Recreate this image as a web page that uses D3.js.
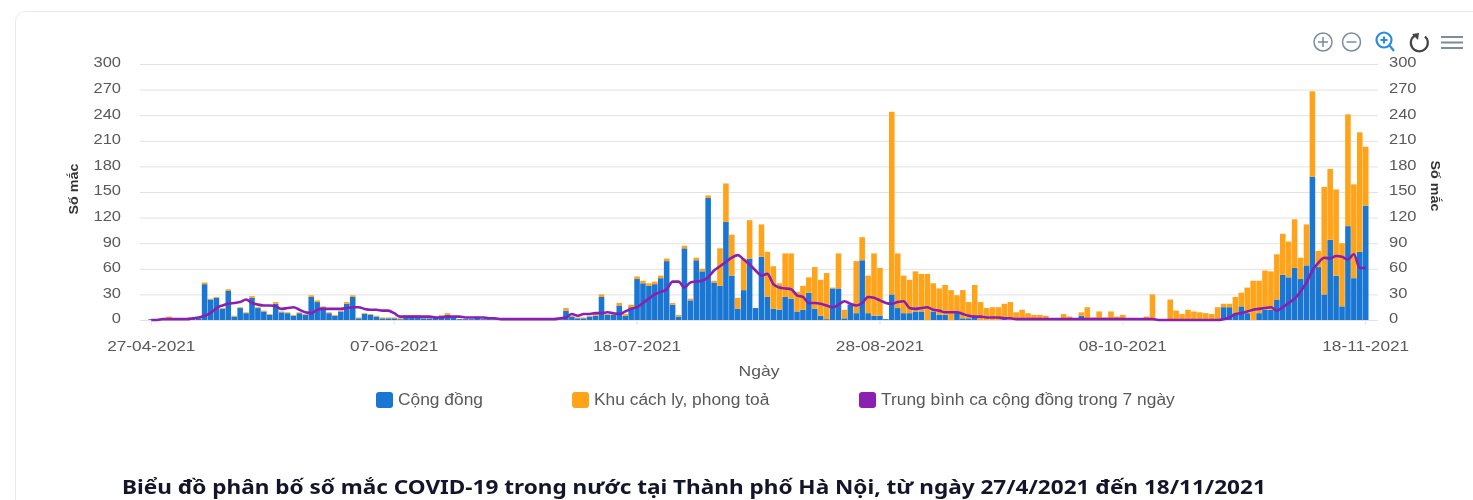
<!DOCTYPE html>
<html>
<script src='https://d3js.org/d3.v7.min.js'></script>
<style>
	body {margin: 0; background: #fff; overflow: hidden; }
	svg {display: block; filter: blur(0.4px); }
	text {font-family: "Liberation Sans", Arial, sans-serif; }
</style>
<body>
<svg id="chart" width="1473" height="500"></svg>
<script>
// values, one entry per day from 27-04-2021
const community = [
	1,1,1,2,1,1,1,2,2,42,
	24,26,13,34,4,14,8,26,14,10,
	6,19,9,8,5,8,6,27,21,15,
	8,5,10,19,27,2,7,6,4,2,
	2,2,1,5,5,5,2,2,3,5,
	6,3,1,1,1,3,1,1,1,1,
	1,1,0,0,1,1,1,1,1,1,
	11,4,2,2,4,5,27,6,6,17,
	5,15,48,43,40,42,49,69,18,4,
	84,23,70,57,143,44,40,115,52,13,
	35,72,14,74,27,13,12,27,25,10,
	12,32,13,5,1,37,37,2,18,8,
	70,8,5,5,1,30,14,8,8,10,
	10,0,10,6,6,0,10,2,2,4,
	0,0,0,0,3,0,0,0,0,0,
	0,0,0,0,0,0,0,5,0,0,
	0,0,0,0,0,0,0,0,0,0,
	0,0,0,0,0,0,0,0,0,0,
	0,15,15,8,16,8,0,8,12,12,
	24,53,50,61,48,64,168,62,30,94,
	52,16,110,49,80,134];
const quarantine = [
	0,0,0,2,0,0,0,0,0,2,
	1,1,1,2,1,1,1,2,1,1,
	1,2,1,1,1,1,1,2,2,1,
	1,1,1,2,2,1,1,1,1,1,
	1,1,1,1,1,1,1,1,1,1,
	2,0,0,0,0,1,0,0,0,0,
	0,0,0,0,0,0,0,0,0,0,
	3,1,1,1,1,2,3,1,1,3,
	2,3,3,3,3,3,3,3,2,2,
	3,2,3,3,3,2,44,45,48,13,
	37,45,0,38,53,50,31,51,53,23,
	28,18,49,42,54,1,41,10,0,61,
	27,44,73,56,0,214,64,44,39,47,
	44,54,33,31,35,35,19,33,19,37,
	21,14,15,15,16,21,9,12,8,6,
	6,5,2,1,7,4,1,4,15,3,
	10,3,10,4,6,1,1,1,4,30,
	0,0,24,11,7,12,10,9,8,7,
	15,4,4,19,16,30,46,38,46,45,
	53,48,42,57,25,48,100,19,126,83,
	101,74,131,110,140,69];
const average = [
	0,0,1,1,1,1,1,2,3,5,
	8,14,17,19,20,21,24,20,18,17,
	17,16,13,14,15,12,9,8,12,13,
	13,13,13,14,15,15,13,12,12,11,
	11,8,4,4,4,4,4,4,3,3,
	4,4,4,3,3,3,3,2,2,1,
	1,1,1,1,1,1,1,1,1,2,
	3,7,5,7,7,8,8,9,8,7,
	10,13,15,20,25,30,33,36,45,45,
	38,44,45,46,50,58,63,68,73,76,
	71,65,58,52,54,42,38,37,36,29,
	27,20,20,19,17,15,18,22,19,17,
	20,27,26,23,20,19,21,22,14,13,
	14,15,12,11,9,9,9,7,5,4,
	4,3,3,3,2,2,1,1,1,1,
	1,1,1,1,1,1,1,1,1,1,
	1,1,1,1,1,1,1,1,1,1,
	0,0,0,0,0,0,0,0,0,0,
	0,1,3,7,8,10,12,13,14,15,
	11,15,20,25,33,44,58,67,73,72,
	75,74,71,77,61,61];
const xTickLabels = ["27-04-2021", "07-06-2021", "18-07-2021", "28-08-2021", "08-10-2021", "18-11-2021"];
const yTicks = [0, 30, 60, 90, 120, 150, 180, 210, 240, 270, 300];
const legendNames = ["Cộng đồng", "Khu cách ly, phong toả", "Trung bình ca cộng đồng trong 7 ngày"];

const fmt = d3.timeFormat("%d-%m-%Y");
const days = d3.timeDay.range(new Date(2021, 3, 27), new Date(2021, 10, 19)).map(fmt);
const rows = days.map((d, i) => ({day: d, community: community[i], quarantine: quarantine[i], average: average[i]}));

const blue = "#1976d2", orange = "#ffa31a", purple = "#8a1fb0";

// the reference text is a little wider than the font draws it
function widen(sel, factor) {
	sel.each(function() {
		d3.select(this)
			.attr("textLength", this.getComputedTextLength() * factor)
			.attr("lengthAdjust", "spacingAndGlyphs");
	});
}

const svg = d3.select("#chart"),
	gridLeft = 140,
	gridRight = 1378;

// card behind the chart, runs off the bottom and right of the window
svg.append("rect")
	.attr("x", 15.5).attr("y", 11.5)
	.attr("width", 1500).attr("height", 600)
	.attr("rx", 10)
	.attr("fill", "#fff")
	.attr("stroke", "#e8e8e8");

const x = d3.scaleBand()
	.domain(days)
	.range([148.5, 1368.5])
	.paddingInner(0.06);

const y = d3.scaleLinear()
	.domain([0, 300])
	.range([320, 64]);

// grid
svg.append("g")
	.attr("transform", `translate(${gridLeft},0)`)
	.call(d3.axisLeft(y).tickValues(yTicks).tickSize(-(gridRight - gridLeft)).tickFormat(""))
	.call(g => g.select(".domain").remove())
	.call(g => g.selectAll("line").attr("stroke", "#e2e2e2"));

// left and right value axes, labels sit a bit above their grid line
svg.append("g")
	.attr("transform", "translate(121,-2)")
	.call(d3.axisLeft(y).tickValues(yTicks).tickSize(0).tickPadding(0))
	.call(g => g.select(".domain").remove())
	.call(g => g.selectAll("text").attr("font-size", 15).attr("fill", "#595959").call(widen, 1.1));

svg.append("g")
	.attr("transform", "translate(1389,-2)")
	.call(d3.axisRight(y).tickValues(yTicks).tickSize(0).tickPadding(0))
	.call(g => g.select(".domain").remove())
	.call(g => g.selectAll("text").attr("font-size", 15).attr("fill", "#595959").call(widen, 1.1));

// date axis
const xTicks = days.filter(d => xTickLabels.includes(d));
svg.append("g")
	.attr("transform", "translate(0,320)")
	.call(d3.axisBottom(x).tickValues(xTicks).tickSize(5).tickPadding(15))
	.call(g => g.select(".domain").remove())
	.call(g => g.selectAll("line").attr("stroke", "#e2e2e2"))
	.call(g => g.selectAll("text").attr("font-size", 15).attr("fill", "#595959").call(widen, 1.15));

// stacked bars
const stack = d3.stack().keys(["community", "quarantine"])(rows);
svg.append("g")
	.selectAll("g")
	.data(stack)
	.enter()
	.append("g")
	.attr("fill", (d, i) => i == 0 ? blue : orange)
	.selectAll("rect")
	.data(d => d)
	.enter()
	.append("rect")
	.attr("x", d => x(d.data.day))
	.attr("y", d => y(d[1]))
	.attr("width", x.bandwidth())
	.attr("height", d => y(d[0]) - y(d[1]));

// 7 day line
const line = d3.line()
	.x(d => x(d.day) + x.bandwidth() / 2)
	.y(d => y(d.average))
	.curve(d3.curveMonotoneX);

svg.append("path")
	.datum(rows)
	.attr("fill", "none")
	.attr("stroke", purple)
	.attr("stroke-width", 2.6)
	.attr("d", line);

// axis titles
svg.append("text")
	.attr("text-anchor", "middle")
	.attr("transform", "translate(78,189) rotate(-90)")
	.attr("font-size", 13).attr("font-weight", "bold").attr("fill", "#333")
	.text("Số mắc")
	.call(widen, 1.1);

svg.append("text")
	.attr("text-anchor", "middle")
	.attr("transform", "translate(1431,186) rotate(90)")
	.attr("font-size", 13).attr("font-weight", "bold").attr("fill", "#333")
	.text("Số mắc")
	.call(widen, 1.1);

svg.append("text")
	.attr("text-anchor", "middle")
	.attr("x", 759).attr("y", 376)
	.attr("font-size", 15).attr("fill", "#595959")
	.text("Ngày")
	.call(widen, 1.17);

// legend
const legendX = [376, 572, 859];
const legendColor = [blue, orange, purple];
const legend = svg.append("g")
	.selectAll("g")
	.data(legendNames)
	.enter()
	.append("g")
	.attr("transform", (d, i) => `translate(${legendX[i]},392)`);

legend.append("rect")
	.attr("width", 17).attr("height", 16)
	.attr("rx", 3)
	.attr("fill", (d, i) => legendColor[i]);

legend.append("text")
	.attr("x", 22).attr("y", 13)
	.attr("font-size", 16).attr("fill", "#595959")
	.text(d => d)
	.call(widen, 1.085);

// chart title
svg.append("text")
	.attr("x", 122).attr("y", 494)
	.attr("font-size", 20).attr("font-weight", "bold").attr("fill", "#14142b")
	.style("font-family", "'Noto Sans', sans-serif")
	.text("Biểu đồ phân bố số mắc COVID-19 trong nước tại Thành phố Hà Nội, từ ngày 27/4/2021 đến 18/11/2021")
	.call(widen, 1.128);

// toolbar
const tools = svg.append("g").attr("fill", "none").attr("stroke", "#7b8c9c").attr("stroke-width", 1.5);

tools.append("circle").attr("cx", 1323).attr("cy", 42).attr("r", 9);
tools.append("path").attr("d", "M1318 42H1328M1323 37V47");

tools.append("circle").attr("cx", 1351.5).attr("cy", 42).attr("r", 9);
tools.append("path").attr("d", "M1346.5 42H1356.5");

tools.append("g").attr("stroke", "#2a8be0").attr("stroke-width", 2.2)
	.call(g => g.append("circle").attr("cx", 1384).attr("cy", 40).attr("r", 7.5))
	.call(g => g.append("path").attr("d", "M1389.5 45.5L1394 51M1380.5 40H1387.5M1384 36.5V43.5"));

tools.append("path")
	.attr("d", "M1415 35.5A8.5 8.5 0 1 0 1425 36.5")
	.attr("stroke", "#444").attr("stroke-width", 2.2);
tools.append("path")
	.attr("d", "M1412 34L1419 33L1418 40Z")
	.attr("fill", "#444").attr("stroke", "none");

tools.append("path").attr("d", "M1441 37H1463M1441 42.5H1463M1441 48H1463").attr("stroke", "#7b8c9c").attr("stroke-width", 2);
</script>
</body>
</html>
